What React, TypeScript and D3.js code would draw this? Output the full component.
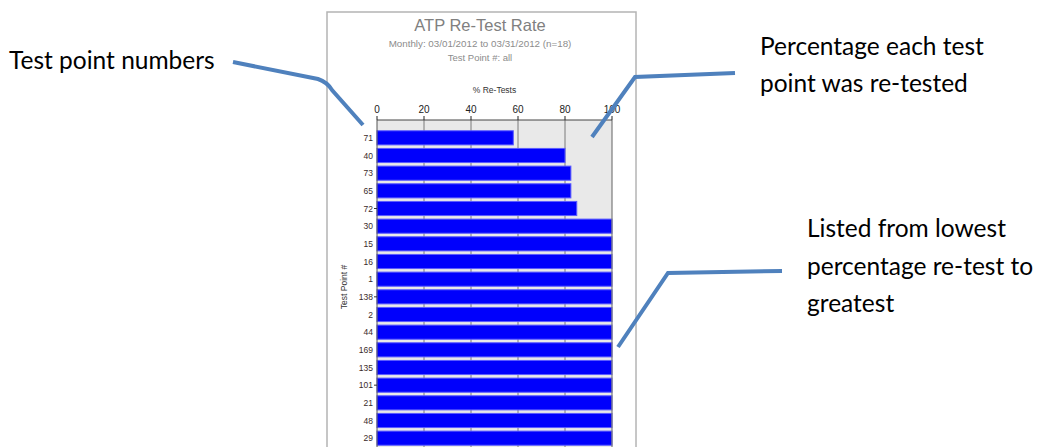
import React from "react";
import * as d3 from "d3";

// test points, ordered from lowest to highest re-test percentage
const testPoints = ["71", "40", "73", "65", "72", "30", "15", "16", "1", "138", "2", "44", "169", "135", "101", "21", "48", "29"];
const retestPct = [58, 80, 82.5, 82.5, 85, 100, 100, 100, 100, 100, 100, 100, 100, 100, 100, 100, 100, 100];
const xTicks = [0, 20, 40, 60, 80, 100];
const tickedPoints = ["72", "138", "101"];

const title = "ATP Re-Test Rate";
const subtitle = "Monthly: 03/01/2012 to 03/31/2012 (n=18)";
const subtitle2 = "Test Point #: all";

const noteLeft = ["Test point numbers"];
const noteTopRight = ["Percentage each test", "point was re-tested"];
const noteBottomRight = ["Listed from lowest", "percentage re-test to", "greatest"];

const W = 1041;
const H = 447;
const plot = { left: 377, right: 612, top: 120, bottom: 456 };
const chartFont = "'Liberation Sans', Arial, sans-serif";
const noteFont = "Lato, 'Open Sans', sans-serif";
const noteSize = 24.5;
const calloutColor = "#4f81bd";

export default function App() {
  const x = d3.scaleLinear().domain([0, 100]).range([plot.left, plot.right]);
  const y = d3
    .scaleBand<string>()
    .domain(testPoints)
    .range([129, 447])
    .paddingInner(0.2)
    .paddingOuter(0.1);
  const cx = (plot.left + plot.right) / 2;
  const line = d3.line().curve(d3.curveLinear);

  return (
    <svg
      width={W}
      height={H}
      style={{ position: "absolute", left: 0, top: 0, background: "#fff" }}
    >
      {/* chart frame */}
      <rect x={327} y={12} width={309} height={460} fill="#fff" stroke="#b4b4b4" strokeWidth={1.5} />

      <text x={480} y={31} textAnchor="middle" fontFamily={chartFont} fontSize={16.5} fill="#808080">
        {title}
      </text>
      <text x={480} y={47} textAnchor="middle" fontFamily={chartFont} fontSize={9.8} fill="#8c8c8c">
        {subtitle}
      </text>
      <text x={480} y={61} textAnchor="middle" fontFamily={chartFont} fontSize={9.5} fill="#8c8c8c">
        {subtitle2}
      </text>
      <text x={cx} y={93} textAnchor="middle" fontFamily={chartFont} fontSize={8.5} fill="#333">
        % Re-Tests
      </text>

      {/* plot background */}
      <rect
        x={plot.left}
        y={plot.top}
        width={plot.right - plot.left}
        height={plot.bottom - plot.top}
        fill="#e9e9e9"
      />
      {xTicks.slice(1, -1).map((t) => (
        <line key={t} x1={x(t)} x2={x(t)} y1={plot.top} y2={plot.bottom} stroke="#7a7a7a" strokeWidth={1} />
      ))}

      {/* bars */}
      {testPoints.map((tp, i) => (
        <rect
          key={tp}
          x={x(0)}
          y={y(tp)}
          width={x(retestPct[i]) - x(0)}
          height={y.bandwidth()}
          fill="#0000fc"
          stroke="#5a5aff"
          strokeWidth={1}
        />
      ))}

      {/* plot borders */}
      <line x1={plot.right} x2={plot.right} y1={plot.top} y2={plot.bottom} stroke="#7a7a7a" strokeWidth={1.2} />
      <line x1={plot.left} x2={plot.left} y1={plot.top} y2={plot.bottom} stroke="#555" strokeWidth={1} />
      <line x1={plot.left} x2={plot.right} y1={plot.top} y2={plot.top} stroke="#444" strokeWidth={1} />

      {/* top axis */}
      {xTicks.map((t) => (
        <g key={t}>
          <line x1={x(t)} x2={x(t)} y1={116} y2={plot.top} stroke="#222" strokeWidth={1} />
          <text x={x(t)} y={113} textAnchor="middle" fontFamily={chartFont} fontSize={10} fill="#222">
            {t}
          </text>
        </g>
      ))}

      {/* left axis labels */}
      {testPoints.map((tp) => {
        const cy = (y(tp) ?? 0) + y.bandwidth() / 2;
        return (
          <g key={tp}>
            <text
              x={plot.left - 4}
              y={cy + 3}
              textAnchor="end"
              fontFamily={chartFont}
              fontSize={8.5}
              fill="#3a2a2a"
            >
              {tp}
            </text>
            {tickedPoints.includes(tp) && (
              <line x1={plot.left - 3} x2={plot.left} y1={cy} y2={cy} stroke="#333" strokeWidth={1} />
            )}
          </g>
        );
      })}
      <text
        transform={`translate(347,287) rotate(-90)`}
        textAnchor="middle"
        fontFamily={chartFont}
        fontSize={8.5}
        fill="#333"
      >
        Test Point #
      </text>

      {/* callouts */}
      <path
        d="M233,62 L318,79 Q327,82 332,90 L363,125"
        fill="none"
        stroke={calloutColor}
        strokeWidth={4}
      />
      <path d={line([[735, 73], [635, 77], [592, 137]]) ?? ""} fill="none" stroke={calloutColor} strokeWidth={4} />
      <path d={line([[782, 271], [668, 273], [618, 347]]) ?? ""} fill="none" stroke={calloutColor} strokeWidth={4} />

      {noteLeft.map((s, i) => (
        <text key={s} x={9} y={69 + i * 37} fontFamily={noteFont} fontSize={noteSize} fill="#000">
          {s}
        </text>
      ))}
      {noteTopRight.map((s, i) => (
        <text key={s} x={760} y={55 + i * 37} fontFamily={noteFont} fontSize={noteSize} fill="#000">
          {s}
        </text>
      ))}
      {noteBottomRight.map((s, i) => (
        <text key={s} x={807} y={237 + i * 37.5} fontFamily={noteFont} fontSize={noteSize} fill="#000">
          {s}
        </text>
      ))}
    </svg>
  );
}
